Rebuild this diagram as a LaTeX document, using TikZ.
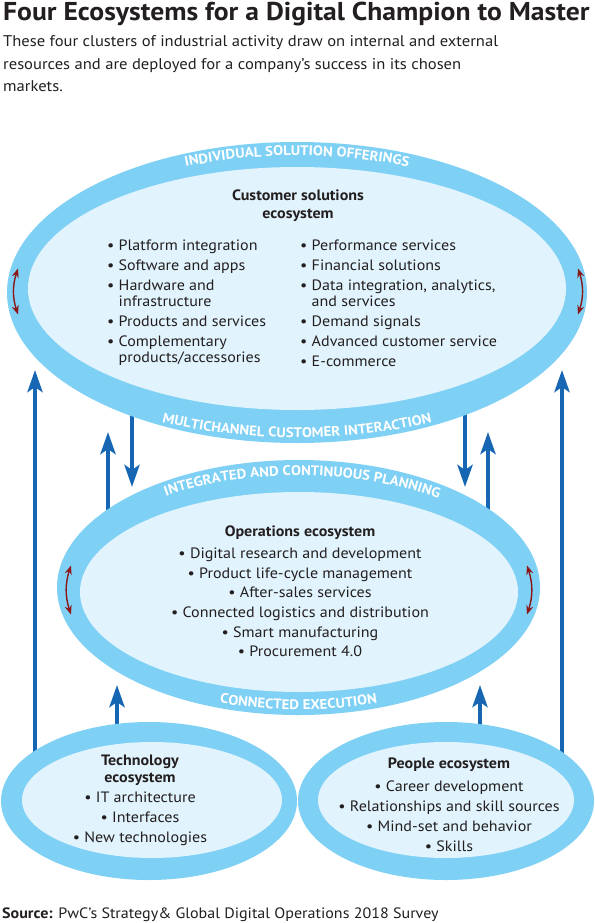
\documentclass[tikz,border=0pt]{standalone}
\usepackage{fontspec}
\setmainfont{PT Sans}[FakeStretch=1.07]
\usetikzlibrary{shapes.geometric,arrows.meta,positioning,backgrounds,decorations.text,calc}

\definecolor{bandblue}{HTML}{7FD0F5}
\definecolor{coreblue}{HTML}{E1F3FC}
\definecolor{flowblue}{HTML}{1666B3}
\definecolor{swingred}{HTML}{8C1515}
\definecolor{inkgray}{HTML}{231F20}

\newcommand{\bandfont}{\fontsize{13.9}{13.9}\selectfont\bfseries\color{white}}
\newcommand{\hang}{\phantom{•\ }}

\begin{document}
\begin{tikzpicture}[
    x=1pt, y=1pt,
    band/.style={ellipse, fill=bandblue, inner sep=0pt, outer sep=0pt},
    core/.style={ellipse, fill=coreblue, inner sep=0pt, outer sep=0pt},
    body/.style={inner sep=0pt, text=inkgray, font=\fontsize{15}{16}\selectfont},
    flow/.style={draw=flowblue, line width=4.5pt, -{Stealth[length=22pt,width=15pt,inset=5pt]}},
    swing/.style={draw=swingred, line width=1.4pt, {Stealth[length=9pt,width=7pt]}-{Stealth[length=9pt,width=7pt]}},
    bandtext/.style={decorate, decoration={text along path, text align=center, text={|\bandfont|#1}}}
]
    \useasboundingbox (0,0) rectangle (594,-923);

    % Heading
    \node[anchor=base west, inner sep=0pt, text=inkgray, font=\fontsize{25.8}{25.8}\selectfont\bfseries] (title) at (3,-21) {Four Ecosystems for a Digital Champion to Master};
    \node[anchor=north west, inner sep=0pt, align=left, text=inkgray, font=\fontsize{15.5}{22.5}\selectfont] (intro) at (3,-35.5) {These four clusters of industrial activity draw on internal and external\\resources and are deployed for a company’s success in its chosen\\markets.};

    % Ecosystems
    \node[band, minimum width=580pt, minimum height=301pt] (custout) at (297,-292.5) {};
    \node[core, minimum width=538pt, minimum height=243pt] (custin) at (297,-288.5) {};
    \node[band, minimum width=483pt, minimum height=255pt] (opsout) at (298.5,-587.5) {};
    \node[core, minimum width=438pt, minimum height=200pt] (opsin) at (299,-592) {};
    \node[band, minimum width=296pt, minimum height=158pt] (techout) at (149,-801) {};
    \node[core, minimum width=260pt, minimum height=116pt] (techin) at (152,-800) {};
    \node[band, minimum width=296pt, minimum height=158pt] (peopout) at (446,-801) {};
    \node[core, minimum width=256pt, minimum height=116pt] (peopin) at (446,-800) {};

    % Band labels
    \path[bandtext={INDIVIDUAL SOLUTION OFFERINGS}] ([xshift=-280pt]custout.center) arc[start angle=180, end angle=0, x radius=280pt, y radius=137pt];
    \path[bandtext={MULTICHANNEL CUSTOMER INTERACTION}] ([xshift=-300pt]custout.center) arc[start angle=180, end angle=360, x radius=300pt, y radius=145pt];
    \path[bandtext={INTEGRATED AND CONTINUOUS PLANNING}] ($(opsout.center)+(178:230pt and 112pt)$) arc[start angle=178, end angle=-2, x radius=230pt, y radius=112pt];
    \path[bandtext={CONNECTED EXECUTION}] ([xshift=-240pt]opsout.center) arc[start angle=180, end angle=360, x radius=240pt, y radius=122pt];

    % Customer solutions
    \node[body, anchor=north, align=center, font=\fontsize{15}{18}\selectfont\bfseries] (custhead) at (298,-189.5) {Customer solutions\\ecosystem};
    \node[body, anchor=north west, align=left] (custleft) at (107,-239.5) {• Platform integration\\[4pt]
        • Software and apps\\[4pt]
        • Hardware and\\ \hang infrastructure\\[4pt]
        • Products and services\\[4pt]
        • Complementary\\ \hang products/accessories};
    \node[body, anchor=north west, align=left] (custright) at (300,-239.5) {• Performance services\\[4pt]
        • Financial solutions\\[4pt]
        • Data integration, analytics,\\ \hang and services\\[4pt]
        • Demand signals\\[4pt]
        • Advanced customer service\\[4pt]
        • E-commerce};

    % Operations
    \node[body, anchor=north, align=center, font=\fontsize{15}{19.7}\selectfont] (ops) at (300,-525.5) {\textbf{Operations ecosystem}\\[2.3pt]
        • Digital research and development\\
        • Product life-cycle management\\
        • After-sales services\\
        • Connected logistics and distribution\\
        • Smart manufacturing\\
        • Procurement 4.0};

    % Technology and people
    \node[body, anchor=north, align=center, font=\fontsize{15}{17}\selectfont] (tech) at (140,-754.5) {\textbf{Technology}\\\textbf{ecosystem}\\[3pt]
        • IT architecture\\[3pt]
        • Interfaces\\[3pt]
        • New technologies};
    \node[body, anchor=north, align=center, font=\fontsize{15}{20}\selectfont] (people) at (449,-757.5) {\textbf{People ecosystem}\\[3pt]
        • Career development\\
        • Relationships and skill sources\\
        • Mind-set and behavior\\
        • Skills};

    % Source
    \node[anchor=base west, inner sep=0pt, text=inkgray, font=\fontsize{15}{15}\selectfont] (source) at (2,-918) {\textbf{Source:} PwC’s Strategy\& Global Digital Operations 2018 Survey};

    % Exchange inside the bands
    \draw[swing] ([shift={(11,24)}]custout.west) to[bend right=18] ([shift={(11,-22)}]custout.west);
    \draw[swing] ([shift={(-9,24)}]custout.east) to[bend left=18] ([shift={(-9,-22)}]custout.east);
    \draw[swing] ([shift={(14,22)}]opsout.west) to[bend right=18] ([shift={(14,-27)}]opsout.west);
    \draw[swing] ([shift={(-13,22)}]opsout.east) to[bend left=18] ([shift={(-13,-27)}]opsout.east);

    % Flows between ecosystems
    \coordinate (lup) at (35,-370);
    \coordinate (rup) at (562,-370);
    \coordinate (lmid) at (108,-432);
    \coordinate (rmid) at (488,-432);
    \coordinate (ldown) at (132,-487);
    \coordinate (rdown) at (465,-487);
    \coordinate (techup) at (117,-685);
    \coordinate (peopup) at (480,-685);
    \begin{scope}[on background layer]
        \fill[white] (0,0) rectangle (594,-923);
        \draw[flow] (techout.center -| lup) -- (lup);
        \draw[flow] (peopout.center -| rup) -- (rup);
        \draw[flow] (opsout.center -| lmid) -- (lmid);
        \draw[flow] (opsout.center -| rmid) -- (rmid);
        \draw[flow] (custout.center -| ldown) -- (ldown);
        \draw[flow] (custout.center -| rdown) -- (rdown);
        \draw[flow] (techout.center -| techup) -- (techup);
        \draw[flow] (peopout.center -| peopup) -- (peopup);
    \end{scope}
\end{tikzpicture}
\end{document}
